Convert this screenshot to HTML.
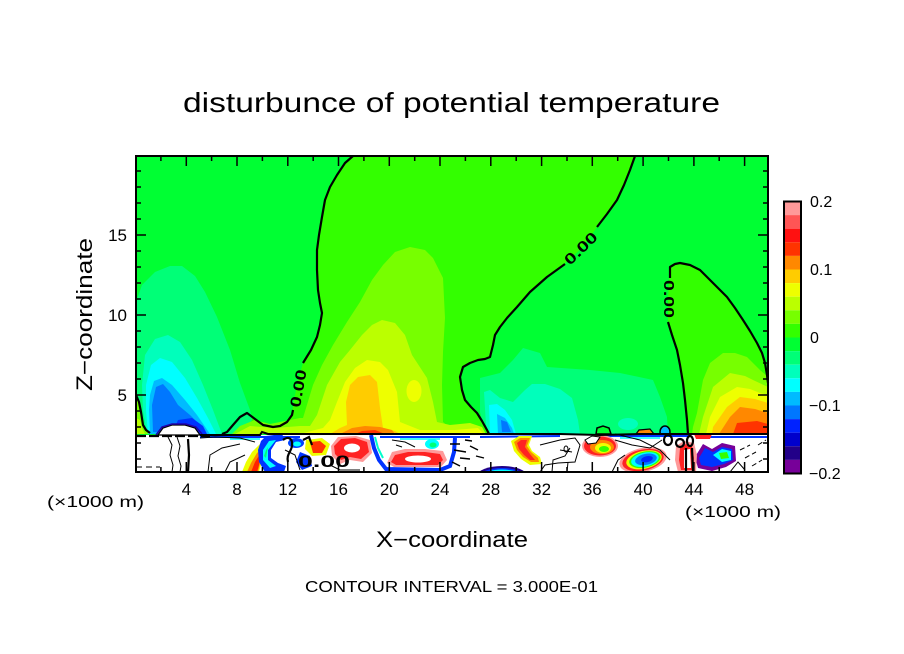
<!DOCTYPE html>
<html><head><meta charset="utf-8"><style>
html,body{margin:0;padding:0;background:#fff;}
svg{display:block;}
text{font-family:"Liberation Sans",sans-serif;fill:#000;}
</style></head><body>
<svg width="904" height="654" viewBox="0 0 904 654" xmlns="http://www.w3.org/2000/svg">
<rect width="904" height="654" fill="#fff"/>
<defs><clipPath id="pc"><rect x="136" y="156" width="632" height="316"/></clipPath></defs>

<g clip-path="url(#pc)">
<rect x="136" y="156" width="632" height="316" fill="#00ff33"/>
<path fill="#33ff00" d="M353,156 L345,163 L337,175 L330,187 L325,200 L322,217 L319,235 L317,250 L317,270 L318,290 L320,303 L322,313 L320,325 L317,337 L311,350 L303,363 L298,380 L294,400 L292,413 L287,422 L280,426 L273,427 L263,425 L255,419 L247,413 L240,417 L233,425 L226,434 L489,434 L487,430 L482,421 L477,413 L471,407 L465,400 L462,390 L460,377 L463,367 L470,363 L478,360 L485,359 L490,357 L493,345 L495,335 L500,327 L507,318 L517,307 L530,292 L547,277 L563,265 L582,248 L597,227 L607,214 L617,200 L624,185 L630,170 L635,156 Z"/>
<path fill="#33ff00" d="M688,434 L687,420 L685,400 L683,383 L680,365 L677,350 L672,335 L668,322 L668,300 L669,280 L670,267 L675,264 L680,263 L690,265 L700,270 L707,277 L717,287 L727,297 L735,308 L743,320 L750,331 L757,343 L762,353 L765,363 L767,375 L768,383 L768,434 Z"/>
<path fill="#77ff00" d="M136,395 L139,402 L141,412 L143,425 L146,430 L150,434 L136,434 Z"/>
<path fill="#bbff00" d="M136,418 L140,420 L142,428 L145,434 L136,434 Z"/>

<path fill="#00ff77" d="M136,302 L142,285 L155,272 L170,266 L182,266 L195,276 L205,292 L217,317 L230,350 L240,383 L250,410 L252,420 L245,428 L240,434 L150,434 L146,430 L143,425 L141,412 L139,402 L136,395 Z"/>
<path fill="#00ffbb" d="M146,428 L143,410 L142,385 L145,355 L155,339 L168,335 L180,342 L192,360 L203,385 L213,410 L222,434 L150,434 Z"/>
<path fill="#00ffff" d="M148,434 L146,410 L146,385 L151,365 L160,358 L172,362 L185,378 L197,398 L208,418 L216,434 Z"/>
<path fill="#00bbff" d="M150,434 L149,410 L150,395 L154,381 L162,378 L172,385 L185,400 L197,415 L210,434 Z"/>
<path fill="#0077ff" d="M153,432 L152,405 L156,387 L163,384 L170,392 L178,405 L190,415 L200,425 L205,434 Z"/>
<path fill="#0033ff" d="M172,434 L178,420 L192,418 L203,426 L207,434 Z"/>

<path fill="#77ff00" d="M232,434 L240,426 L255,420 L270,424 L290,420 L300,418 L303,418 L313,385 L322,365 L333,345 L347,322 L360,302 L372,280 L383,265 L395,252 L410,247 L425,250 L433,258 L443,278 L445,318 L443,352 L442,385 L443,422 L450,428 L489,434 Z"/>
<path fill="#bbff00" d="M235,434 L250,426 L275,428 L300,426 L310,426 L317,415 L327,385 L340,362 L350,350 L362,335 L372,325 L382,320 L395,323 L405,335 L412,355 L427,378 L433,402 L437,422 L450,425 L470,423 L482,427 L486,434 Z"/>
<path fill="#eeff00" d="M300,434 L315,430 L323,428 L330,420 L337,402 L345,382 L355,368 L367,360 L380,362 L388,370 L397,392 L400,422 L420,430 L455,430 L478,428 L484,434 Z"/>
<ellipse cx="414" cy="391" rx="7.5" ry="11" fill="#eeff00"/>
<path fill="#ffcc00" d="M330,434 L340,428 L347,425 L346,402 L350,385 L358,377 L370,375 L377,382 L380,408 L383,428 L395,431 L400,434 Z"/>
<path fill="#ff8800" d="M340,434 L352,428 L365,426 L380,427 L392,430 L395,434 Z"/>
<path fill="#ff3300" d="M355,434 L362,431 L375,430 L385,434 Z"/>

<path fill="#00ff77" d="M480,378 L500,373 L513,360 L523,348 L540,353 L547,367 L590,370 L620,373 L653,380 L660,397 L667,417 L668,434 L489,434 L487,430 L482,421 L480,412 Z"/>
<path fill="#00ffbb" d="M484,392 L490,390 L500,398 L513,402 L525,390 L532,384 L545,384 L560,389 L572,398 L578,420 L580,434 L489,434 L486,425 Z"/>
<ellipse cx="628" cy="424" rx="10" ry="6" fill="#00ffbb"/>
<path fill="#00ffff" d="M489,405 L497,404 L505,410 L512,420 L516,434 L490,434 Z"/>
<path fill="#00bbff" d="M497,414 L505,418 L512,428 L514,434 L498,434 Z"/>
<path fill="#0077ff" d="M501,420 L507,422 L511,432 L502,432 Z"/>

<path fill="#77ff00" d="M692,434 L693,427 L697,413 L703,380 L710,363 L723,353 L735,353 L747,357 L760,370 L768,377 L768,434 Z"/>
<path fill="#bbff00" d="M699,434 L703,417 L713,387 L730,373 L745,376 L753,380 L768,387 L768,434 Z"/>
<path fill="#eeff00" d="M706,434 L710,417 L720,397 L737,387 L750,389 L760,393 L768,395 L768,434 Z"/>
<path fill="#ffcc00" d="M712,434 L713,427 L727,407 L740,397 L755,399 L768,403 L768,434 Z"/>
<path fill="#ff8800" d="M719,434 L730,417 L740,407 L755,409 L768,413 L768,434 Z"/>
<path fill="#ff3300" d="M733,434 L737,423 L757,421 L768,424 L768,434 Z"/>

<path fill="#00ff33" stroke="#000" stroke-width="1.5" d="M596,434 L597,428 L603,426 L609,428 L611,434 Z"/>
<ellipse cx="665" cy="432" rx="5" ry="6" fill="#00bbff" stroke="#000" stroke-width="1.5"/>
<path fill="#ff8800" stroke="#000" stroke-width="1.2" d="M636,434 L639,430 L650,429 L654,434 Z"/>

<rect x="136" y="435" width="632" height="37" fill="#fff"/>
<path fill="#fff" stroke="#000" stroke-width="1.2" d="M158,435 L163,428 L172,425 L185,425 L195,428 L200,435 Z"/>
<path fill="none" stroke="#2200aa" stroke-width="1.5" d="M156,435 L162,427 L172,424 L186,424 L196,427 L202,434"/>

<path fill="none" stroke="#0033ff" stroke-width="2" d="M200,437 L300,437 M380,437 L470,437 M480,437 L560,436 M600,436 L690,436 M700,437 L768,437"/>
<path fill="none" stroke="#00ffff" stroke-width="1.5" d="M230,439 L260,439 M400,439 L440,439 M620,438 L660,438"/>

<path fill="#eeff00" d="M242,472 L246,462 L252,452 L260,444 L266,446 L263,458 L259,472 Z"/>
<path fill="#ff8800" d="M247,472 L251,463 L257,453 L263,448 L261,460 L258,472 Z"/>
<path fill="#ff2200" d="M251,472 L255,462 L260,454 L259,465 L257,472 Z"/>
<path fill="#0033ff" d="M266,436 L282,434 L285,440 L276,442 L271,450 L271,458 L278,463 L286,466 L284,472 L265,472 L259,462 L258,450 L261,441 Z"/>
<path fill="#00ffff" d="M269,441 L276,440 L268,450 L268,460 L276,466 L270,468 L263,460 L263,450 Z"/>
<path fill="#00ff77" d="M266,450 L268,447 L266,458 L264,456 Z"/>
<ellipse cx="296" cy="443" rx="8" ry="5" fill="#0044ff"/>
<ellipse cx="297" cy="444" rx="4" ry="2.5" fill="#00ffff"/>
<path fill="#eeff00" d="M306,440 L322,438 L330,444 L326,455 L312,456 L305,449 Z"/>
<path fill="#ff3300" d="M310,442 L320,441 L326,446 L322,453 L313,453 Z"/>
<path fill="#0033ff" d="M300,452 L310,456 L312,466 L302,470 L296,462 Z"/>
<path fill="#ff9999" d="M331,446 L338,437 L356,436 L370,440 L372,453 L363,462 L350,460 L340,464 L332,456 Z"/>
<path fill="#ff2222" d="M334,446 L341,439 L355,438 L367,442 L369,452 L361,459 L350,457 L341,460 L335,454 Z"/>
<ellipse cx="352" cy="448" rx="8" ry="4.5" fill="#fff"/>
<!-- spot F thinner -->
<path fill="none" stroke="#0033ff" stroke-width="4" d="M371,435 L374,448 L379,460 L386,469 L440,470 L450,466 L454,452 L455,438"/>
<path fill="none" stroke="#00ffcc" stroke-width="2" d="M375,437 L378,448 L383,458"/>
<path fill="#ff9999" d="M387,463 L392,452 L405,449 L425,449 L443,451 L447,460 L441,467 L394,467 Z"/>
<path fill="#ff2222" d="M391,462 L395,455 L408,452 L425,452 L440,454 L443,460 L438,465 L396,465 Z"/>
<ellipse cx="418" cy="459" rx="13" ry="3.5" fill="#fff"/>
<ellipse cx="432" cy="444" rx="7" ry="5" fill="#00ffff"/>
<ellipse cx="433" cy="445" rx="3.5" ry="2.5" fill="#00ff77"/>
<path fill="#eeff00" d="M511,441 L519,436 L532,436 L529,445 L532,451 L540,457 L542,464 L530,465 L521,459 L514,451 Z"/>
<path fill="#ff8800" d="M514,442 L520,438 L530,438 L527,446 L531,452 L538,458 L539,462 L531,462 L523,457 L517,450 Z"/>
<path fill="#ff2222" d="M517,443 L521,440 L527,440 L525,447 L530,454 L535,460 L530,460 L524,455 L519,449 Z"/>
<ellipse cx="600" cy="446" rx="18" ry="11" fill="#ff9999"/>
<ellipse cx="600" cy="446" rx="16" ry="9.5" fill="#ff2222"/>
<ellipse cx="602" cy="447" rx="12" ry="7" fill="#ff8800"/>
<ellipse cx="603" cy="448" rx="8" ry="5" fill="#eeff00"/>
<ellipse cx="604" cy="449" rx="5" ry="3" fill="#33ff00"/>
<path fill="#fff" stroke="#000" stroke-width="1" d="M585,440 L592,436 L600,437 L596,443 L588,444 Z"/>
<g transform="rotate(-12 643 460)">
<ellipse cx="643" cy="460" rx="24" ry="12" fill="#ff9999"/>
<ellipse cx="643" cy="460" rx="21" ry="10.5" fill="#ff2222"/>
<ellipse cx="644" cy="460" rx="18" ry="9" fill="#eeff00"/>
<ellipse cx="645" cy="460" rx="16" ry="8" fill="#33ff00"/>
<ellipse cx="645" cy="460" rx="14" ry="7" fill="#00ffff"/>
<ellipse cx="646" cy="460" rx="11" ry="5.5" fill="#0077ff"/>
<ellipse cx="647" cy="460" rx="6" ry="3" fill="#0022ff"/>
</g>
<ellipse cx="502" cy="476" rx="25" ry="10" fill="#220088"/>
<ellipse cx="502" cy="476" rx="22" ry="8" fill="#0033ff"/>
<ellipse cx="502" cy="476" rx="19" ry="6.5" fill="#00ffff"/>
<ellipse cx="502" cy="476" rx="16" ry="5" fill="#eeff00"/>
<ellipse cx="502" cy="476" rx="13" ry="4" fill="#ff2222"/>
<path fill="#770099" d="M695,457 L703,444 L712,449 L722,443 L735,446 L736,461 L726,467 L712,471 L698,468 Z"/>
<path fill="#0033ff" d="M699,458 L705,448 L713,452 L722,447 L732,449 L733,460 L724,464 L712,467 L701,465 Z"/>
<path fill="#00ffff" d="M713,455 L722,449 L731,451 L731,460 L722,462 Z"/>
<path fill="#33ff00" d="M719,453 L727,452 L729,458 L721,459 Z"/>
<path fill="#ff9999" d="M676,446 L684,441 L694,443 L697,455 L696,472 L678,472 L675,460 Z"/>
<path fill="#ff2222" d="M680,448 L686,444 L692,446 L694,458 L693,470 L681,470 L679,460 Z"/>
<path fill="#fff" d="M684,450 L690,449 L691,468 L684,468 Z"/>
<path fill="#ff2222" d="M694,434 L712,434 L710,439 L696,439 Z"/>

<g fill="none" stroke="#000" stroke-width="1">
<path d="M168,437 L172,445 L170,455 L173,465 L172,472"/>
<path d="M177,437 L180,446 L178,456 L181,466 L180,472"/>
<path d="M200,438 L215,437 L240,438 L255,442"/>
<path d="M136,467 L160,467" stroke-dasharray="6,4"/>
<path d="M208,472 L210,455 L222,448 L240,444"/>
<path d="M225,472 L230,462 L245,455"/>
<path d="M285,450 L295,455 L300,470"/>
<path d="M330,465 L340,470 L360,470"/>
<path d="M392,440 L405,442 L415,447 M396,445 L402,447"/>
<path d="M450,444 L460,444 M454,450 L466,452 M460,458 L470,459 M452,462 L460,466 M470,446 L478,450 M476,456 L484,458 M465,440 L472,441" stroke-width="1.4"/>
<path d="M540,445 L560,440 L575,438 L580,445 L575,462 L558,463 L545,465 L540,472"/>
<path d="M552,472 L553,460 L565,456 L570,448"/>
<path d="M567,472 L568,462"/>
<path d="M560,450 L572,452"/>
<ellipse cx="566" cy="449" rx="2" ry="3"/>
<path d="M615,440 L632,445 L650,448 L662,440"/>
<path d="M612,472 L618,460 L625,455"/>
<path d="M740,450 L750,445 M745,458 L756,452 M752,466 L762,460 M758,445 L766,440" stroke-dasharray="5,3"/>
<path d="M730,472 L738,462 L745,470"/>
<path d="M615,434 L640,440 L660,450 L670,460"/>
</g>
<g fill="none" stroke="#000" stroke-width="2.2">
<path d="M188,439 L189,455 L188,472"/>
<path d="M136,436 L210,436" stroke-dasharray="10,3"/>
<path d="M283,440 C288,436 293,438 292,446 C291,452 286,455 288,462"/>
<path d="M303,440 L309,437 L312,445"/>
<ellipse cx="668" cy="440" rx="4" ry="5"/>
<ellipse cx="680" cy="443" rx="4" ry="4"/>
<ellipse cx="690" cy="441" rx="3" ry="5"/>
<path d="M686,448 L686,472 M692,448 L693,472"/>
</g>
<text x="298" y="467" font-size="17" font-weight="bold" textLength="52" lengthAdjust="spacingAndGlyphs">0.00</text>

<path fill="none" stroke="#000" stroke-width="2" d="M200,435 L260,435 L262,432 L268,434 L300,434 L380,434 L450,434 L520,434 L560,434 L600,435 L640,434 L700,434 L768,434"/>
</g>

<g fill="none" stroke="#000" stroke-width="2.2" stroke-linejoin="round">
<path d="M353,156 L345,163 L337,175 L330,187 L325,200 L322,217 L319,235 L317,250 L317,270 L318,290 L320,303 L322,313 L320,325 L317,337 L311,350 L303,363"/>
<path d="M293,410 L292,415 L287,422 L280,426 L273,427 L263,425 L255,419 L247,413 L240,417 L233,425 L227,432 L222,434"/>
<path d="M635,156 L630,170 L624,185 L617,200 L607,214 L597,227"/>
<path d="M565,264 L547,277 L530,292 L517,307 L507,318 L500,327 L495,335 L493,345 L490,357 L485,359 L478,360 L470,363 L463,367 L460,377 L462,390 L465,400 L471,407 L477,413 L482,421 L487,430 L489,434"/>
<path d="M688,434 L687,420 L685,400 L683,383 L680,365 L677,350 L672,335 L668,322"/>
<path d="M670,278 L670,267 L675,264 L680,263 L690,265 L700,270 L707,277 L717,287 L727,297 L735,308 L743,320 L750,331 L757,343 L762,353 L765,363 L767,375 L768,383"/>
<path d="M136,395 L139,402 L141,412 L143,425 L146,430 L150,433"/>
</g>
<text transform="translate(300,408) rotate(-80)" font-size="15" font-weight="bold" textLength="38" lengthAdjust="spacingAndGlyphs">0.00</text>
<text transform="translate(570,266) rotate(-44)" font-size="15" font-weight="bold" textLength="40" lengthAdjust="spacingAndGlyphs">0.00</text>
<text transform="translate(664,280) rotate(90)" font-size="15" font-weight="bold" textLength="38" lengthAdjust="spacingAndGlyphs">0.00</text>

<rect x="136" y="156" width="632" height="316" fill="none" stroke="#000" stroke-width="2"/>
<g stroke="#000" stroke-width="1.5" fill="none">
<path d="M186.3,156v10 M237,156v10 M287.8,156v10 M338.5,156v10 M389.3,156v10 M440,156v10 M490.8,156v10 M541.6,156v10 M592.3,156v10 M643.1,156v10 M693.9,156v10 M744.6,156v10
M160.9,156v5 M211.6,156v5 M262.4,156v5 M313.2,156v5 M363.9,156v5 M414.7,156v5 M465.4,156v5 M516.2,156v5 M567,156v5 M617.7,156v5 M668.5,156v5 M719.2,156v5
M186.3,472v-10 M237,472v-10 M287.8,472v-10 M338.5,472v-10 M389.3,472v-10 M440,472v-10 M490.8,472v-10 M541.6,472v-10 M592.3,472v-10 M643.1,472v-10 M693.9,472v-10 M744.6,472v-10
M160.9,472v-5 M211.6,472v-5 M262.4,472v-5 M313.2,472v-5 M363.9,472v-5 M414.7,472v-5 M465.4,472v-5 M516.2,472v-5 M567,472v-5 M617.7,472v-5 M668.5,472v-5 M719.2,472v-5
M136,395h10 M136,315h10 M136,235h10
M136,459h5 M136,443h5 M136,427h5 M136,411h5 M136,379h5 M136,363h5 M136,347h5 M136,331h5 M136,299h5 M136,283h5 M136,267h5 M136,251h5 M136,219h5 M136,203h5 M136,187h5 M136,171h5
M768,395h-10 M768,315h-10 M768,235h-10
M768,459h-5 M768,443h-5 M768,427h-5 M768,411h-5 M768,379h-5 M768,363h-5 M768,347h-5 M768,331h-5 M768,299h-5 M768,283h-5 M768,267h-5 M768,251h-5 M768,219h-5 M768,203h-5 M768,187h-5 M768,171h-5"/>
</g>

<g>
<rect x="784" y="201.5" width="17" height="13.6" fill="#ff9999"/>
<rect x="784" y="215.1" width="17" height="13.6" fill="#ff5555"/>
<rect x="784" y="228.7" width="17" height="13.6" fill="#ff1111"/>
<rect x="784" y="242.3" width="17" height="13.6" fill="#ff3300"/>
<rect x="784" y="255.9" width="17" height="13.6" fill="#ff8800"/>
<rect x="784" y="269.5" width="17" height="13.6" fill="#ffcc00"/>
<rect x="784" y="283.1" width="17" height="13.6" fill="#eeff00"/>
<rect x="784" y="296.7" width="17" height="13.6" fill="#bbff00"/>
<rect x="784" y="310.3" width="17" height="13.6" fill="#77ff00"/>
<rect x="784" y="323.9" width="17" height="13.6" fill="#33ff00"/>
<rect x="784" y="337.5" width="17" height="13.6" fill="#00ff33"/>
<rect x="784" y="351.1" width="17" height="13.6" fill="#00ff77"/>
<rect x="784" y="364.7" width="17" height="13.6" fill="#00ffbb"/>
<rect x="784" y="378.3" width="17" height="13.6" fill="#00ffff"/>
<rect x="784" y="391.9" width="17" height="13.6" fill="#00bbff"/>
<rect x="784" y="405.5" width="17" height="13.6" fill="#0077ff"/>
<rect x="784" y="419.1" width="17" height="13.6" fill="#0022ff"/>
<rect x="784" y="432.7" width="17" height="13.6" fill="#0000cc"/>
<rect x="784" y="446.3" width="17" height="13.6" fill="#220088"/>
<rect x="784" y="459.9" width="17" height="13.6" fill="#770099"/>
<rect x="784" y="201.5" width="17" height="272" fill="none" stroke="#000" stroke-width="2"/>
</g>
<g font-size="16">
<text x="810" y="207">0.2</text>
<text x="810" y="275">0.1</text>
<text x="810" y="343">0</text>
<text x="809" y="411">−0.1</text>
<text x="809" y="479">−0.2</text>
</g>

<g font-size="17" text-anchor="middle">
<text x="186.3" y="495">4</text>
<text x="237" y="495">8</text>
<text x="287.8" y="495">12</text>
<text x="338.5" y="495">16</text>
<text x="389.3" y="495">20</text>
<text x="440" y="495">24</text>
<text x="490.8" y="495">28</text>
<text x="541.6" y="495">32</text>
<text x="592.3" y="495">36</text>
<text x="643.1" y="495">40</text>
<text x="693.9" y="495">44</text>
<text x="744.6" y="495">48</text>
</g>
<g font-size="17" text-anchor="end">
<text x="127" y="241">15</text>
<text x="127" y="321">10</text>
<text x="127" y="401">5</text>
</g>
<text x="47" y="507" font-size="16" textLength="97" lengthAdjust="spacingAndGlyphs">(×1000 m)</text>
<text x="685" y="517" font-size="16" textLength="96" lengthAdjust="spacingAndGlyphs">(×1000 m)</text>

<text x="183" y="112" font-size="28" textLength="537" lengthAdjust="spacingAndGlyphs">disturbunce of potential temperature</text>
<text x="376" y="547" font-size="22" textLength="152" lengthAdjust="spacingAndGlyphs">X−coordinate</text>
<text transform="translate(92,391) rotate(-90)" font-size="22" textLength="153" lengthAdjust="spacingAndGlyphs">Z−coordinate</text>
<text x="305" y="592" font-size="16" textLength="293" lengthAdjust="spacingAndGlyphs">CONTOUR INTERVAL = 3.000E-01</text>
</svg>
</body></html>
